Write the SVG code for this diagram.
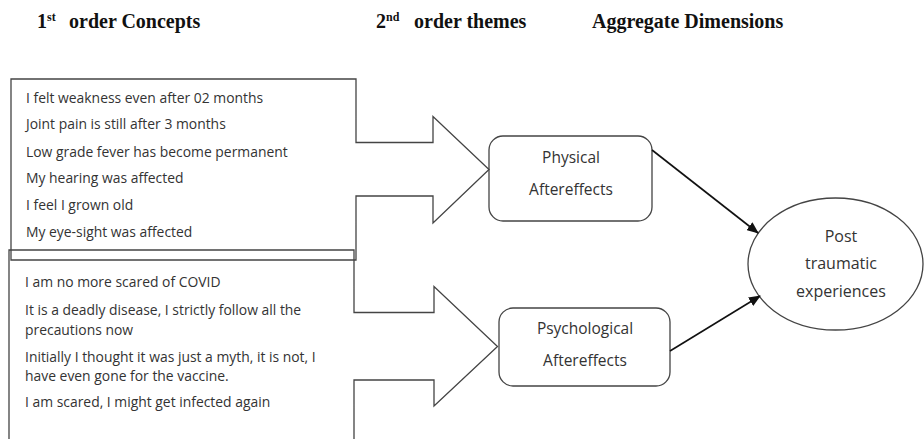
<svg xmlns="http://www.w3.org/2000/svg" width="924" height="439" viewBox="0 0 924 439">
<style>
.hd{font-family:"Liberation Serif","Times New Roman",serif;font-weight:bold;font-size:20px;fill:#111}
.sup{font-size:12px}
.t{font-family:"Open Sans","Liberation Sans",sans-serif;font-size:13.9px;fill:#333}
.n{font-family:"Open Sans","Liberation Sans",sans-serif;font-size:15.5px;fill:#333;text-anchor:middle}
.e{font-family:"Open Sans","Liberation Sans",sans-serif;font-size:16px;fill:#333;text-anchor:middle}
.sh{fill:none;stroke:#444;stroke-width:1.3}
.con{stroke:#111;stroke-width:1.6;fill:none;marker-end:url(#ah)}
</style>
<defs>
<marker id="ah" markerWidth="12" markerHeight="10" refX="11" refY="5" orient="auto" markerUnits="userSpaceOnUse">
<path d="M0,0 L12,5 L0,10 z" fill="#111"/>
</marker>
</defs>
<rect width="924" height="439" fill="#fff"/>
<g id="headers">
<text class="hd" x="37" y="28">1<tspan class="sup" dy="-7">st</tspan><tspan x="69" dy="7">order Concepts</tspan></text>
<text class="hd" x="376" y="28">2<tspan class="sup" dy="-7">nd</tspan><tspan x="414" dy="7">order themes</tspan></text>
<text class="hd" x="592" y="28">Aggregate Dimensions</text>
</g>
<g id="physical-concepts">
<path class="sh" d="M11,79 L356,79 L356,142.5 L433,142.5 L433,116.5 L489,169.5 L433,223 L433,196 L356,196 L356,260 L11,260 Z"/>
<text class="t" x="26" y="103">I felt weakness even after 02 months</text>
<text class="t" x="26" y="129">Joint pain is still after 3 months</text>
<text class="t" x="26" y="156.5">Low grade fever has become permanent</text>
<text class="t" x="26" y="183">My hearing was affected</text>
<text class="t" x="26" y="210">I feel I grown old</text>
<text class="t" x="26" y="236.5">My eye-sight was affected</text>
</g>
<g id="psychological-concepts">
<path class="sh" d="M9,445 L9,250 L354,250 L354,312.5 L434,312.5 L434,286.5 L497.5,346.5 L434,406 L434,380 L354,380 L354,445"/>
<text class="t" x="25" y="286.5">I am no more scared of COVID</text>
<text class="t" x="25" y="315">It is a deadly disease, I strictly follow all the</text>
<text class="t" x="25" y="334.5">precautions now</text>
<text class="t" x="25" y="361.5">Initially I thought it was just a myth, it is not, I</text>
<text class="t" x="25" y="381">have even gone for the vaccine.</text>
<text class="t" x="25" y="406.5">I am scared, I might get infected again</text>
</g>
<g id="physical">
<rect class="sh" x="489" y="136" width="163" height="85" rx="14"/>
<text class="n" x="571" y="163">Physical</text>
<text class="n" x="571" y="195">Aftereffects</text>
</g>
<g id="psychological">
<rect class="sh" x="499" y="308" width="171" height="78" rx="14"/>
<text class="n" x="585" y="334">Psychological</text>
<text class="n" x="585" y="366">Aftereffects</text>
</g>
<g id="post-traumatic">
<ellipse class="sh" cx="835.5" cy="264" rx="87.5" ry="66"/>
<text class="e" x="841" y="242">Post</text>
<text class="e" x="841" y="269">traumatic</text>
<text class="e" x="841" y="296.5">experiences</text>
</g>
<g id="connectors">
<line class="con" x1="652" y1="150" x2="758" y2="233"/>
<line class="con" x1="670" y1="351" x2="760" y2="296"/>
</g>
</svg>
